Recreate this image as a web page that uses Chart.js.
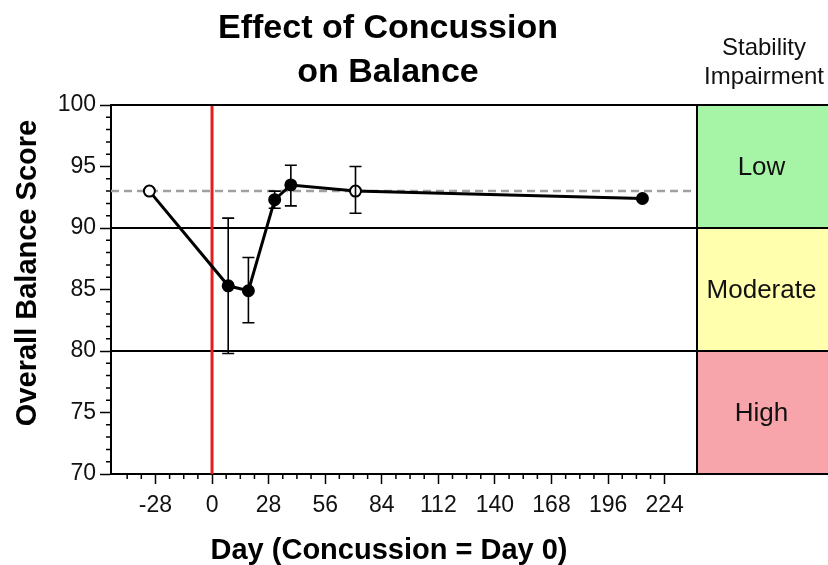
<!DOCTYPE html>
<html>
<head>
<meta charset="utf-8">
<script src="https://cdn.jsdelivr.net/npm/chart.js@4.4.1/dist/chart.umd.min.js"></script>
<style>
  html, body { margin: 0; padding: 0; background: #fff; }
  #wrap { width: 828px; height: 565px; position: relative; }
</style>
</head>
<body>
<div id="wrap"><canvas id="c"></canvas></div>
<script>
// ---- data ----
const days      = [-31, 8, 18, 31, 39, 71, 213];
const scores    = [93.0, 85.3, 84.9, 92.3, 93.5, 93.0, 92.4];
const errLow    = [null, 79.8, 82.3, 91.6, 91.8, 91.2, null];
const errHigh   = [null, 90.8, 87.6, 93.0, 95.1, 95.0, null];
const openPoint = [true, false, false, false, false, true, false];
const baselineScore = 93;
const injuryDay = 0;
const xTickValues = [-28, 0, 28, 56, 84, 112, 140, 168, 196, 224];
const yTickValues = [70, 75, 80, 85, 90, 95, 100];
const zoneBounds = [100, 90, 80, 70];
const zoneLabels = ['Low', 'Moderate', 'High'];
const zoneColors = ['#a6f5a6', '#ffffad', '#f7a4aa'];
const titleLines = ['Effect of Concussion', 'on Balance'];
const panelTitle = ['Stability', 'Impairment'];
const xTitle = 'Day (Concussion = Day 0)';
const yTitle = 'Overall Balance Score';

const FONT = "'Liberation Sans', Arial, Helvetica, sans-serif";
const X_MIN = -50, X_MAX = 240, Y_MIN = 70, Y_MAX = 100;

const decor = {
  id: 'decor',
  beforeDatasetsDraw(chart) {
    const { ctx, chartArea: a, scales: { x, y } } = chart;
    const W = chart.width;
    ctx.save();
    for (let i = 0; i < zoneLabels.length; i++) {
      const y0 = y.getPixelForValue(zoneBounds[i]);
      const y1 = y.getPixelForValue(zoneBounds[i + 1]);
      ctx.fillStyle = zoneColors[i];
      ctx.fillRect(a.right, y0, W - a.right, y1 - y0);
      ctx.fillStyle = '#111';
      ctx.font = '26px ' + FONT;
      ctx.textAlign = 'center';
      ctx.textBaseline = 'middle';
      ctx.fillText(zoneLabels[i], (a.right + W) / 2 - 1, (y0 + y1) / 2 + 1);
    }
    ctx.strokeStyle = '#000';
    ctx.lineWidth = 2;
    [zoneBounds[1], zoneBounds[2]].forEach(v => {
      const py = Math.round(y.getPixelForValue(v));
      ctx.beginPath(); ctx.moveTo(a.left, py); ctx.lineTo(W, py); ctx.stroke();
    });
    ctx.restore();
  },
  afterDatasetsDraw(chart) {
    const { ctx, scales: { x, y } } = chart;
    ctx.save();
    ctx.strokeStyle = '#000';
    ctx.lineWidth = 1.6;
    const cap = 6;
    for (let i = 0; i < days.length; i++) {
      if (errLow[i] == null) continue;
      const px = x.getPixelForValue(days[i]);
      const lo = y.getPixelForValue(errLow[i]);
      const hi = y.getPixelForValue(errHigh[i]);
      ctx.beginPath();
      ctx.moveTo(px, lo); ctx.lineTo(px, hi);
      ctx.moveTo(px - cap, lo); ctx.lineTo(px + cap, lo);
      ctx.moveTo(px - cap, hi); ctx.lineTo(px + cap, hi);
      ctx.stroke();
    }
    ctx.restore();
  },
  afterDraw(chart) {
    const { ctx, chartArea: a, scales: { x, y } } = chart;
    const W = chart.width;
    ctx.save();
    ctx.strokeStyle = '#000';
    ctx.lineWidth = 2;
    const top = Math.round(y.getPixelForValue(Y_MAX));
    const bot = Math.round(y.getPixelForValue(Y_MIN));
    ctx.beginPath();
    ctx.moveTo(a.left, top); ctx.lineTo(W, top);
    ctx.moveTo(a.right, top); ctx.lineTo(a.right, bot);
    ctx.moveTo(a.right, bot); ctx.lineTo(W, bot);
    ctx.stroke();
    // minor ticks
    ctx.lineWidth = 1.5;
    ctx.beginPath();
    for (let v = Y_MIN + 1; v < Y_MAX; v++) {
      if (v % 5 === 0) continue;
      const py = y.getPixelForValue(v);
      ctx.moveTo(a.left - 5, py); ctx.lineTo(a.left, py);
    }
    for (let v = -42; v <= 224; v += 7) {
      if (v % 28 === 0) continue;
      const px = x.getPixelForValue(v);
      ctx.moveTo(px, a.bottom); ctx.lineTo(px, a.bottom + 5);
    }
    ctx.stroke();
    // titles
    ctx.fillStyle = '#000';
    ctx.textAlign = 'center';
    ctx.textBaseline = 'alphabetic';
    ctx.font = 'bold 34px ' + FONT;
    ctx.fillText(titleLines[0], 388, 38);
    ctx.fillText(titleLines[1], 388, 82);
    ctx.font = 'bold 29px ' + FONT;
    ctx.fillText(xTitle, 389, 559);
    ctx.save();
    ctx.translate(36, 273);
    ctx.rotate(-Math.PI / 2);
    ctx.fillText(yTitle, 0, 0);
    ctx.restore();
    ctx.fillStyle = '#111';
    ctx.font = '24px ' + FONT;
    ctx.fillText(panelTitle[0], 764, 55);
    ctx.fillText(panelTitle[1], 764, 84);
    ctx.restore();
  }
};

new Chart(document.getElementById('c'), {
  type: 'line',
  data: {
    datasets: [
      {
        label: 'Balance',
        data: days.map((d, i) => ({ x: d, y: scores[i] })),
        borderColor: '#000',
        borderWidth: 3,
        tension: 0,
        pointRadius: 5.5,
        pointBorderWidth: 2,
        pointBorderColor: '#000',
        pointBackgroundColor: openPoint.map(o => o ? '#fff' : '#000'),
        order: 0
      },
      {
        label: 'Baseline',
        data: [{ x: X_MIN, y: baselineScore }, { x: X_MAX, y: baselineScore }],
        borderColor: '#a0a0a0',
        borderWidth: 2.5,
        borderDash: [8, 5],
        pointRadius: 0,
        order: 1
      },
      {
        label: 'Injury',
        data: [{ x: injuryDay, y: Y_MIN }, { x: injuryDay, y: Y_MAX }],
        borderColor: '#e41e1e',
        borderWidth: 3,
        pointRadius: 0,
        order: 2
      }
    ]
  },
  options: {
    responsive: true,
    maintainAspectRatio: false,
    animation: false,
    devicePixelRatio: 1,
    layout: { padding: { top: 105, right: 131, left: 0, bottom: 0 } },
    plugins: { legend: { display: false }, title: { display: false }, tooltip: { enabled: false } },
    scales: {
      x: {
        type: 'linear',
        min: X_MIN, max: X_MAX,
        afterBuildTicks: s => { s.ticks = xTickValues.map(v => ({ value: v })); },
        afterFit: s => { s.height = 91; },
        border: { display: true, color: '#000', width: 2 },
        grid: { drawOnChartArea: false, drawTicks: true, tickLength: 10, tickColor: '#000', tickWidth: 1.5 },
        ticks: { color: '#111', font: { family: FONT, size: 23 }, padding: 8, autoSkip: false, maxRotation: 0 }
      },
      y: {
        type: 'linear',
        min: Y_MIN, max: Y_MAX,
        afterBuildTicks: s => { s.ticks = yTickValues.map(v => ({ value: v })); },
        afterFit: s => { s.width = 111; },
        border: { display: true, color: '#000', width: 2 },
        grid: { drawOnChartArea: false, drawTicks: true, tickLength: 11, tickColor: '#000', tickWidth: 1.5 },
        ticks: { color: '#111', font: { family: FONT, size: 23 }, padding: 4, autoSkip: false },
        title: { display: false, text: yTitle }
      }
    }
  },
  plugins: [decor]
});
</script>
</body>
</html>
